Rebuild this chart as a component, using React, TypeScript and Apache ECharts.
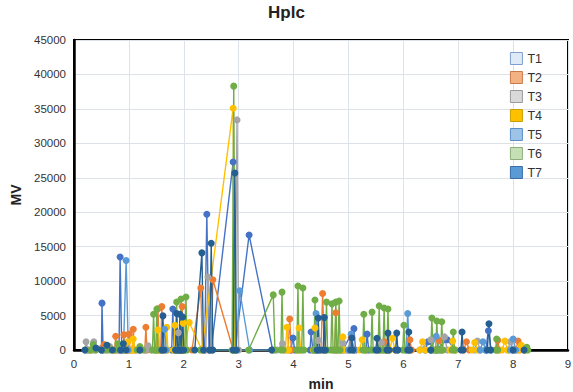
import React, { useEffect, useRef } from "react";
import * as echarts from "echarts";

const seriesNames = ["T1", "T2", "T3", "T4", "T5", "T6", "T7"];
const lineColors = ["#4472C4", "#ED7D31", "#A5A5A5", "#FFC000", "#5B9BD5", "#70AD47", "#255E91"];
const legendFills = ["#DEEBF7", "#F4B183", "#D9D9D9", "#FFC000", "#9DC3E6", "#C5E0B4", "#5B9BD5"];
const legendBorders = ["#7F9FCF", "#C97A4A", "#9A9A9A", "#C9A000", "#5B8FC9", "#8DAE7A", "#3A6EA5"];
const xTicks = [0, 1, 2, 3, 4, 5, 6, 7, 8, 9];
const yTicks = [0, 5000, 10000, 15000, 20000, 25000, 30000, 35000, 40000, 45000];

const t1 = [[0.25,0],[0.5,0],[0.51,6800],[0.53,0],[0.82,0],[0.84,13500],[0.87,0],[1.2,0],[1.78,0],[1.8,5950],[1.82,0],[2.38,0],[2.42,19700],[2.46,0],[2.5,0],[2.9,27300],[2.93,0],[3.19,16700],[3.62,0],[3.95,0],[3.99,1750],[4.02,0],[4.3,0],[4.32,2600],[4.35,0],[4.9,0],[5.1,3100],[5.13,0],[5.32,0],[5.34,2300],[5.37,0],[5.9,0],[6.4,0],[6.45,1200],[6.6,0],[6.8,1500],[6.95,0],[7.5,0],[7.55,2800],[7.6,0],[8.0,0],[8.2,0]];
const t2 = [[0.3,0],[0.55,800],[0.6,0],[0.74,0],[0.76,2000],[0.78,0],[0.89,0],[0.91,2200],[0.93,0],[0.98,0],[1.0,2300],[1.02,0],[1.06,0],[1.08,3000],[1.1,0],[1.29,0],[1.31,3300],[1.33,0],[1.51,0],[1.53,6000],[1.55,0],[1.58,0],[1.6,6300],[1.62,0],[1.95,0],[1.97,6300],[1.99,0],[2.15,0],[2.31,9000],[2.34,0],[2.5,0],[2.53,10200],[2.9,0],[3.9,0],[3.93,4500],[3.96,0],[4.5,0],[4.53,8200],[4.56,0],[4.75,0],[4.77,5400],[4.79,0],[5.0,0],[5.05,1800],[5.1,0],[5.6,0],[5.65,1200],[5.7,0],[6.1,0],[6.12,1500],[6.15,0],[6.6,0],[6.65,1400],[6.7,0],[7.1,0],[7.15,1200],[7.2,0],[7.7,0],[7.72,1400],[7.75,0],[8.05,0],[8.09,1300],[8.12,0]];
const t3 = [[0.2,0],[0.22,1200],[0.25,0],[0.34,0],[0.36,1200],[0.38,0],[0.6,0],[0.65,500],[0.7,0],[1.3,0],[1.35,600],[1.4,0],[1.85,0],[1.9,2500],[1.93,0],[2.4,0],[2.44,10600],[2.48,0],[2.93,0],[2.97,33400],[3.0,0],[3.7,0],[3.8,900],[3.85,0],[4.4,0],[4.45,1400],[4.5,0],[4.85,0],[4.9,1000],[4.95,0],[5.5,0],[5.6,1100],[5.65,0],[6.3,0],[6.5,1500],[6.55,0],[6.7,0],[6.75,1900],[6.8,0],[7.3,0],[7.35,1300],[7.4,0],[7.9,0],[7.95,1200],[8.0,0]];
const t4 = [[0.3,0],[0.6,500],[0.7,0],[0.95,0],[0.98,1200],[1.02,0],[1.06,0],[1.08,1600],[1.11,0],[1.5,0],[1.53,2900],[1.56,0],[1.67,0],[1.69,3300],[1.71,0],[1.82,0],[1.84,3600],[1.86,0],[1.97,0],[1.99,3900],[2.01,0],[2.1,4000],[2.33,0],[2.9,35100],[2.93,0],[3.85,0],[3.88,3300],[3.91,0],[4.07,0],[4.1,3200],[4.13,0],[4.36,0],[4.39,3200],[4.42,0],[4.87,0],[4.9,1900],[4.93,0],[5.2,0],[5.25,1500],[5.3,0],[5.75,0],[5.8,1700],[5.85,0],[6.3,0],[6.35,1200],[6.4,0],[6.85,0],[6.9,1300],[6.95,0],[7.25,0],[7.3,1100],[7.35,0],[7.8,0],[7.85,1300],[7.9,0],[8.1,0],[8.15,700],[8.2,0]];
const t5 = [[0.9,0],[0.95,13000],[0.99,0],[1.6,0],[1.65,3000],[1.68,0],[2.95,0],[3.02,8600],[3.2,0],[4.38,0],[4.41,5300],[4.44,0],[5.0,0],[5.05,2300],[5.1,0],[6.05,0],[6.08,5300],[6.11,0],[6.5,0],[6.6,2000],[6.65,0],[7.4,0],[7.45,1200],[7.5,0],[7.95,0],[8.0,1600],[8.05,0]];
const t6 = [[0.3,0],[0.35,800],[0.4,0],[0.55,0],[0.6,700],[0.65,0],[0.75,0],[0.8,900],[0.85,0],[1.15,0],[1.2,500],[1.25,0],[1.43,0],[1.45,5200],[1.47,0],[1.49,0],[1.51,5950],[1.53,0],[1.85,0],[1.87,6960],[1.89,0],[1.93,0],[1.95,7400],[1.97,0],[2.02,0],[2.04,7700],[2.06,0],[2.3,0],[2.88,0],[2.91,38300],[2.94,0],[3.18,0],[3.63,8000],[3.66,0],[3.77,0],[3.79,8400],[3.81,0],[4.06,0],[4.08,9300],[4.1,0],[4.15,0],[4.17,9000],[4.19,0],[4.37,0],[4.39,7250],[4.41,0],[4.58,0],[4.6,6950],[4.62,0],[4.68,0],[4.7,6700],[4.72,0],[4.75,0],[4.77,6950],[4.79,0],[4.81,0],[4.83,7100],[4.85,0],[5.26,0],[5.28,5200],[5.3,0],[5.41,0],[5.43,5500],[5.45,0],[5.54,0],[5.56,6400],[5.58,0],[5.63,0],[5.65,6100],[5.67,0],[5.7,0],[5.72,5950],[5.74,0],[5.99,0],[6.01,3600],[6.03,0],[6.5,0],[6.52,4650],[6.54,0],[6.59,0],[6.61,4200],[6.63,0],[6.68,0],[6.7,4100],[6.72,0],[6.89,0],[6.91,2600],[6.93,0],[7.68,0],[7.7,1600],[7.72,0],[8.23,0],[8.25,400],[8.27,0]];
const t7 = [[0.2,0],[0.4,300],[0.5,0],[0.6,700],[0.7,0],[0.85,0],[0.9,900],[0.95,0],[1.2,0],[1.6,0],[1.62,4950],[1.64,0],[1.85,0],[1.87,5300],[1.89,0],[1.91,0],[1.93,5200],[1.95,0],[1.96,0],[1.98,4800],[2.0,0],[2.2,0],[2.33,14100],[2.36,0],[2.47,0],[2.5,15500],[2.53,0],[2.9,0],[2.93,25700],[2.96,0],[3.6,0],[4.43,0],[4.45,4650],[4.47,0],[4.54,0],[4.56,4700],[4.58,0],[5.04,0],[5.06,1750],[5.08,0],[5.5,0],[5.52,1700],[5.54,0],[5.7,0],[5.72,2450],[5.74,0],[5.86,0],[5.88,2450],[5.9,0],[6.08,0],[6.1,2600],[6.12,0],[6.5,0],[7.05,0],[7.07,2600],[7.09,0],[7.53,0],[7.56,3800],[7.59,0],[8.0,0],[8.2,0]];

const allData = [t1, t2, t3, t4, t5, t6, t7];

const FONT = "'Liberation Sans', Arial, sans-serif";

export default function App() {
  const ref = useRef<HTMLDivElement>(null);
  useEffect(() => {
    if (!ref.current) return;
    const chart = echarts.init(ref.current, undefined, { renderer: "svg" });
    chart.setOption({
      animation: false,
      backgroundColor: "#ffffff",
      title: {
        text: "Hplc",
        left: "center",
        top: -1,
        textStyle: { fontFamily: FONT, fontSize: 17, fontWeight: "bold", color: "#222" },
      },
      legend: {
        orient: "vertical",
        right: 26,
        top: 47,
        icon: "rect",
        itemWidth: 12,
        itemHeight: 12,
        itemGap: 6,
        textStyle: { fontFamily: FONT, fontSize: 12.5, color: "#333" },
        data: seriesNames.map((n, i) => ({
          name: n,
          icon: "rect",
          itemStyle: { color: legendFills[i], borderColor: legendBorders[i], borderWidth: 1 },
          lineStyle: { width: 0, opacity: 0, color: "rgba(0,0,0,0)" },
        })),
      },
      grid: {
        left: 74,
        right: 5,
        top: 40,
        bottom: 42,
        show: true,
        borderColor: "#000",
        borderWidth: 2,
        outerBoundsMode: "none",
        containLabel: false,
      },
      xAxis: {
        type: "value",
        min: xTicks[0],
        max: xTicks[xTicks.length - 1],
        interval: 1,
        name: "min",
        nameLocation: "middle",
        nameGap: 27,
        nameTextStyle: { fontFamily: FONT, fontSize: 14, fontWeight: "bold", color: "#222" },
        axisLine: { show: true, lineStyle: { color: "#000", width: 2.5 } },
        axisTick: { show: false },
        axisLabel: { fontFamily: FONT, fontSize: 11.5, color: "#333", margin: 8 },
        splitLine: { show: true, lineStyle: { color: "#dde1e8", width: 1 } },
      },
      yAxis: {
        type: "value",
        min: yTicks[0],
        max: yTicks[yTicks.length - 1],
        interval: 5000,
        name: "MV",
        nameLocation: "middle",
        nameGap: 50,
        nameTextStyle: { fontFamily: FONT, fontSize: 14, fontWeight: "bold", color: "#222" },
        axisLine: { show: true, lineStyle: { color: "#000", width: 2.5 } },
        axisTick: { show: false },
        axisLabel: {
          fontFamily: FONT,
          fontSize: 11.5,
          color: "#333",
          margin: 8,
          formatter: (v: number) => String(v),
        },
        splitLine: { show: true, lineStyle: { color: "#dde1e8", width: 1 } },
      },
      series: seriesNames.map((n, i) => ({
        name: n,
        type: "line",
        data: allData[i],
        symbol: "circle",
        symbolSize: 7,
        showSymbol: true,
        color: lineColors[i],
        lineStyle: { width: 1.4, color: lineColors[i] },
        itemStyle: { color: lineColors[i] },
        emphasis: { disabled: true },
      })),
    });
    return () => chart.dispose();
  }, []);
  return <div ref={ref} style={{ width: 573, height: 392, position: "absolute", left: 0, top: 0 }} />;
}
